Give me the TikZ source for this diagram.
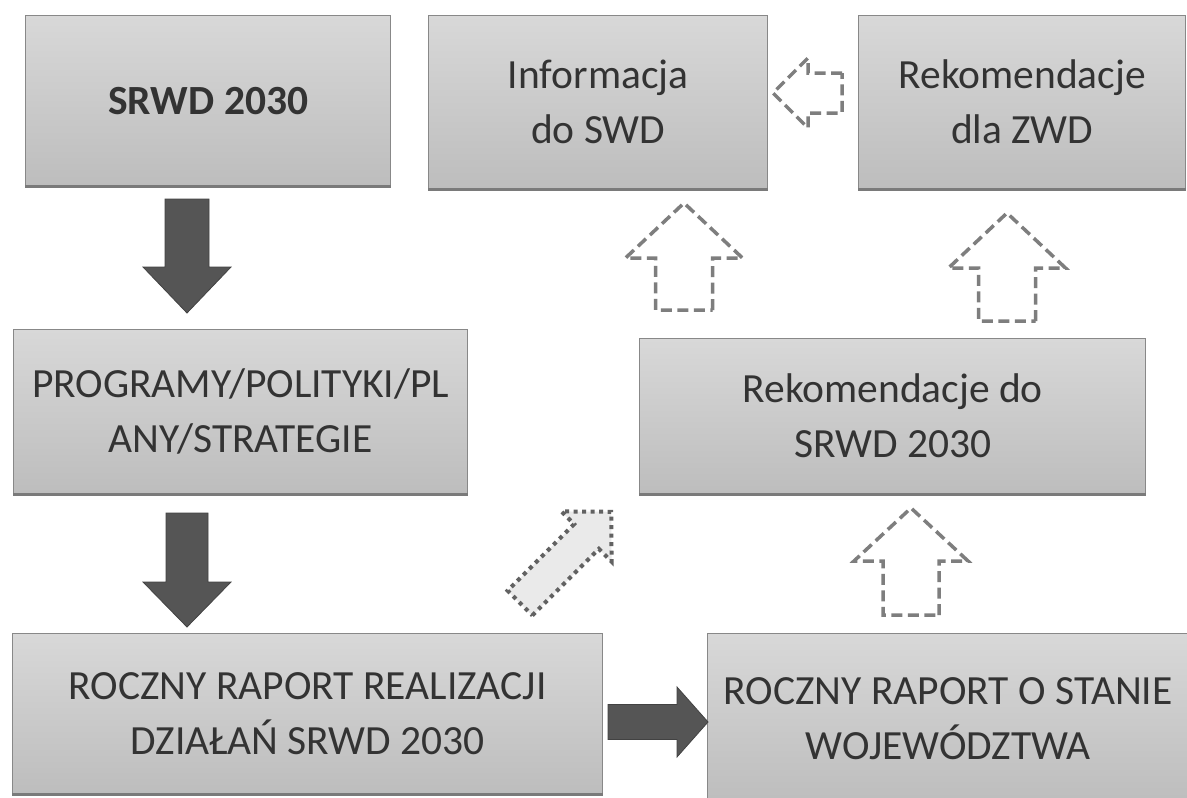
\documentclass[tikz,border=0pt]{standalone}
\usepackage{fontspec}
\setmainfont{Carlito}
\usetikzlibrary{calc}
\definecolor{txt}{HTML}{333333}
\definecolor{solidarr}{HTML}{555555}
\definecolor{solidedge}{HTML}{424242}
\definecolor{dasharr}{HTML}{7E7E7E}
\definecolor{dotarr}{HTML}{626262}
\definecolor{dotfill}{HTML}{EAEAEA}
\definecolor{boxline}{HTML}{888888}
\definecolor{boxshadow}{HTML}{7A7A7A}
\definecolor{boxtop}{HTML}{D8D8D8}
\definecolor{boxmid}{HTML}{E2E2E2}
\definecolor{boxbot}{HTML}{BDBDBD}

% #1 style, #2 tail coordinate, #3 angle, #4 length, #5 shaft width, #6 head width, #7 head length
\newcommand{\blockarr}[7]{%
  \begin{scope}[shift={(#2)},rotate=#3]
    \draw[#1] (0,{#5/2}) -- ({#4-#7},{#5/2}) -- ({#4-#7},{#6/2}) -- (#4,0)
      -- ({#4-#7},{-#6/2}) -- ({#4-#7},{-#5/2}) -- (0,{-#5/2}) -- cycle;
  \end{scope}}

\tikzset{
  box/.style={draw=boxline, line width=1.4pt, top color=boxtop, middle color=boxmid,
    bottom color=boxbot, text=txt, font=\fontsize{41.5}{55}\selectfont, align=center,
    inner sep=0pt, anchor=north west},
  solidarrow/.style={fill=solidarr, draw=solidedge, line width=0.8pt},
  dasharrow/.style={draw=dasharr, line width=3.5pt, dash pattern=on 11pt off 5.5pt, line join=miter},
  dotarrow/.style={fill=dotfill, draw=dotarr, line width=4pt, dash pattern=on 4pt off 4.5pt},
  shadowline/.style={draw=boxshadow, line width=2.5pt}
}

\begin{document}
\begin{tikzpicture}[x=1pt,y=-1pt]
\useasboundingbox[fill=white] (0,0) rectangle (1187,798);

% boxes
\node[box, minimum width=365, minimum height=170] (s) at (25,15) {\textbf{SRWD 2030}};
\node[box, minimum width=339, minimum height=173] (i) at (428,15) {Informacja\\do SWD};
\node[box, minimum width=327, minimum height=173] (z) at (858,15) {Rekomendacje\\dla ZWD};
\node[box, minimum width=454, minimum height=164] (p) at (13,329) {PROGRAMY/POLITYKI/PL\\ANY/STRATEGIE};
\node[box, minimum width=506, minimum height=155] (k) at (639,338) {Rekomendacje do\\SRWD 2030};
\node[box, minimum width=590, minimum height=160] (r) at (12,633) {ROCZNY RAPORT REALIZACJI\\DZIAŁAŃ SRWD 2030};
\node[box, minimum width=481, minimum height=170] (w) at (707,633) {ROCZNY RAPORT O STANIE\\WOJEWÓDZTWA};

\foreach \n in {s,i,z,p,k,r}{\draw[shadowline] (\n.south west) -- (\n.south east);}

% arrow anchor coordinates (tails)
\coordinate (a1) at (187,199);
\coordinate (a2) at (187,513);
\coordinate (a3) at (608,722);
\coordinate (d1) at (684,310);
\coordinate (d2) at (1007,321);
\coordinate (d3) at (911,615);
\coordinate (d4) at (842,93);
\coordinate (t1) at (520,603);

% solid arrows
\blockarr{solidarrow}{a1}{-90}{114}{44}{88}{46}
\blockarr{solidarrow}{a2}{-90}{114}{42}{88}{45}
\blockarr{solidarrow}{a3}{0}{100}{35}{70}{31}

% dashed arrows
\blockarr{dasharrow}{d1}{90}{107}{57}{117}{55}
\blockarr{dasharrow}{d2}{90}{108}{57}{117}{55}
\blockarr{dasharrow}{d3}{90}{107}{56}{114}{53}
\blockarr{dasharrow}{d4}{180}{69}{40}{70}{35}

% dotted diagonal arrow
\blockarr{dotarrow}{t1}{45}{129}{35}{71}{35}
\end{tikzpicture}
\end{document}
